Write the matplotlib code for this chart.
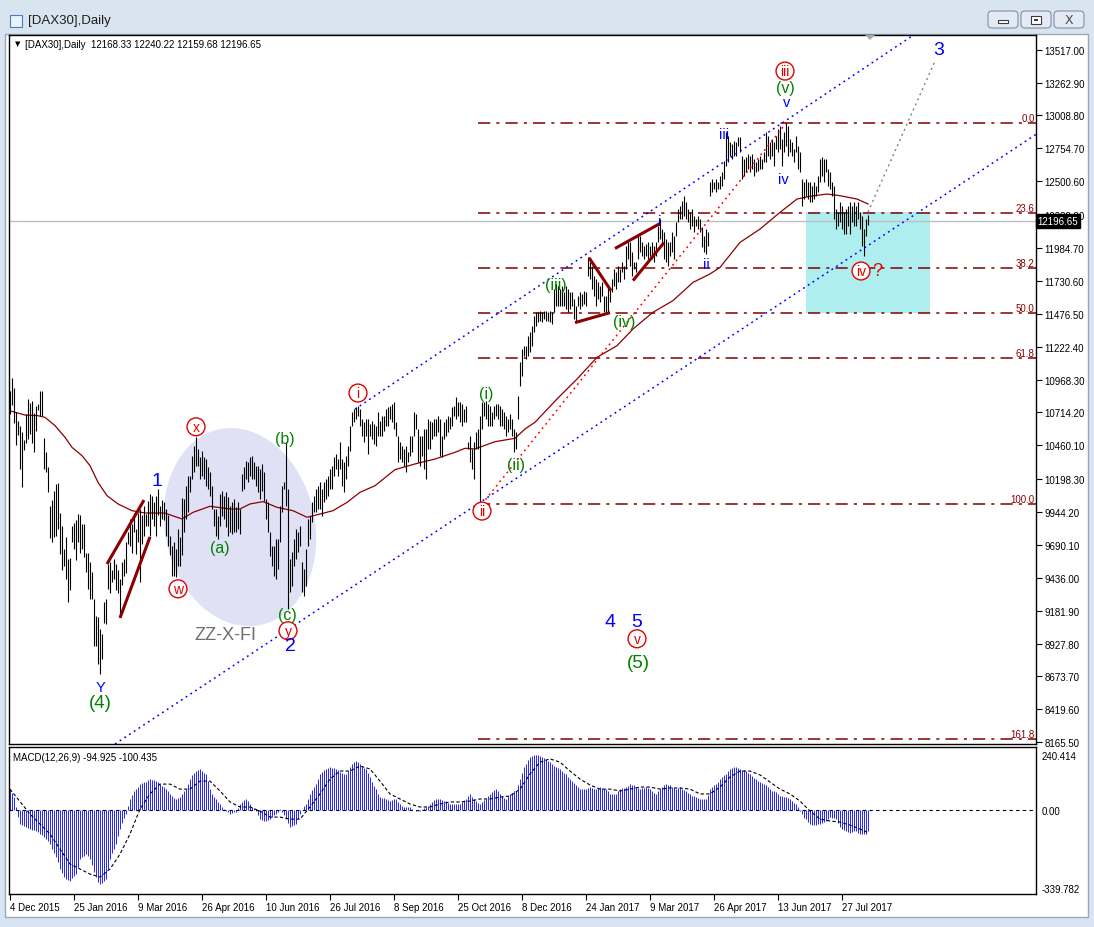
import numpy as np
import matplotlib
matplotlib.use("Agg")
from matplotlib import pyplot as plt
from matplotlib import patches, transforms

W, H = 1094, 928
plt.rcParams['font.family'] = ['Liberation Sans', 'DejaVu Sans']

# daily bars, 4 Dec 2015 .. mid Aug 2017
bar_high = [
	10880, 10980, 10900, 10720, 10650, 10610, 10560, 10500, 10700, 10820,
	10790, 10800, 10710, 10760, 10780, 10880, 10880, 10520, 10410, 10290,
	9990, 10040, 10110, 10160, 10170, 9940, 9840, 9660, 9750, 9580,
	9590, 9840, 9860, 9880, 9930, 9920, 9850, 9850, 9630, 9630,
	9560, 9480, 9270, 9140, 9130, 9040, 9000, 9250, 9270, 9540,
	9560, 9500, 9580, 9540, 9500, 9430, 9560, 9580, 9710, 9790,
	9890, 9850, 9940, 9810, 9940, 9970, 9920, 9990, 9930, 10030,
	10080, 10070, 10020, 10070, 10120, 9990, 10040, 10020, 9970, 9920,
	9760, 9680, 9710, 9660, 9810, 9750, 10050,
	10045, 10148, 10226, 10226, 10380, 10457, 10522, 10432, 10367, 10419,
	10367, 10354, 10290, 10251, 10148, 9968, 9968, 9916, 10084, 10110,
	10071, 10097, 10058, 9994, 10019, 10045, 9981, 10019, 9968, 10238,
	10290, 10341, 10329, 10367, 10380, 10329, 10303, 10303, 10277, 10316,
	10251, 10045, 10019, 9788, 9685, 9685, 9736, 9736, 9994, 10148,
	10174, 10483, 10123, 9582, 9633, 9736, 9813, 9788, 9839, 9556,
	9504, 9659, 9891, 9916, 10019, 10071, 10123, 10148, 10174, 10123,
	10174, 10200, 10226, 10277, 10303, 10367, 10393, 10354, 10483, 10354,
	10329, 10380, 10457, 10612, 10715, 10741, 10754,
	10766, 10741, 10663, 10638, 10663, 10663, 10625, 10650, 10625, 10612,
	10715, 10650, 10690, 10690, 10741, 10754, 10766, 10779, 10792, 10638,
	10535, 10483, 10457, 10432, 10457, 10406, 10535, 10535, 10715, 10702,
	10586, 10535, 10535, 10586, 10586, 10663, 10650, 10638, 10663, 10663,
	10690, 10663, 10535, 10638, 10663, 10690, 10676, 10754, 10766, 10831,
	10792, 10792, 10779, 10741, 10766, 10483, 10535, 10432, 10483, 10560,
	10586, 10690, 10792, 10792, 10805, 10779, 10766, 10715, 10766, 10779,
	10779, 10766, 10741, 10715, 10690, 10663, 10702, 10663, 10586, 10560,
	10844, 11101, 11204, 11230, 11230, 11307, 11333, 11385,
	11462, 11488, 11488, 11500, 11488, 11500, 11500, 11488, 11500, 11488,
	11668, 11707, 11694, 11668, 11694, 11642, 11694, 11668, 11642, 11642,
	11591, 11539, 11616, 11642, 11629, 11655, 11642, 11913, 11874, 11848,
	11771, 11745, 11719, 11694, 11719, 11616, 11616, 11694, 11668, 11745,
	11822, 11797, 11848, 11822, 11874, 11848, 12003, 12028, 12028, 11951,
	11874, 11874, 12080, 12080, 12028, 12003, 12016, 12028, 12003, 12028,
	12003, 12028, 12157, 12209, 12132, 12106, 12054, 12028, 12028, 12106,
	12080, 12183, 12286, 12312, 12350, 12389, 12338, 12286, 12260, 12286,
	12235, 12209, 12235, 12209, 12150, 12080, 12131, 12106, 12492, 12518,
	12492, 12518, 12492, 12544, 12569, 12659, 12878, 12853, 12801, 12788,
	12814, 12801, 12840, 12840, 12698, 12672, 12685, 12711, 12698, 12711,
	12672, 12647, 12672, 12698, 12672, 12724, 12878, 12853, 12801, 12827,
	12801, 12853, 12904, 12930, 12827, 12878, 12956, 12930, 12827, 12801,
	12750, 12853, 12775, 12724, 12518, 12492, 12518, 12492, 12492, 12466,
	12492, 12466, 12544, 12672, 12685, 12672, 12672, 12595, 12569, 12492,
	12466, 12286, 12260, 12337, 12312, 12260, 12286, 12312, 12337, 12312,
	12337, 12312, 12337, 12260, 12234, 12131, 12209, 12240,
]
bar_low = [
	10700, 10770, 10630, 10460, 10540, 10280, 10140, 10420, 10480, 10510,
	10550, 10480, 10410, 10570, 10730, 10690, 10690, 10280, 10250, 10100,
	9740, 9710, 9750, 9760, 9810, 9620, 9500, 9530, 9430, 9250,
	9340, 9710, 9660, 9570, 9710, 9630, 9660, 9600, 9480, 9350,
	9270, 9270, 8910, 8910, 8770, 8690, 8810, 9090, 9080, 9350,
	9320, 9400, 9430, 9340, 9320, 9130, 9380, 9450, 9470, 9700,
	9680, 9630, 9790, 9620, 9710, 9400, 9700, 9760, 9840, 9840,
	9760, 9890, 9840, 9760, 9920, 9840, 9890, 9880, 9760, 9680,
	9610, 9450, 9450, 9440, 9530, 9530, 9610,
	9788, 9891, 9942, 10097, 10200, 10251, 10303, 10303, 10200, 10226,
	10200, 10148, 10123, 10071, 9968, 9839, 9762, 9736, 9839, 9916,
	9891, 9826, 9762, 9788, 9775, 9788, 9788, 9813, 9775, 10110,
	10123, 10200, 10174, 10226, 10200, 10200, 10148, 10097, 10045, 10110,
	10032, 9891, 9788, 9607, 9530, 9453, 9427, 9504, 9710, 9942,
	10123, 9994, 9195, 9324, 9376, 9530, 9582, 9633, 9685, 9324,
	9298, 9376, 9685, 9736, 9865, 9942, 9942, 9968, 9968, 9916,
	10019, 10045, 10071, 10123, 10123, 10226, 10277, 10226, 10277, 10148,
	10097, 10200, 10303, 10419, 10612, 10638, 10663,
	10690, 10612, 10535, 10483, 10535, 10393, 10535, 10509, 10470, 10457,
	10535, 10535, 10535, 10573, 10612, 10612, 10663, 10638, 10586, 10535,
	10328, 10354, 10328, 10303, 10251, 10328, 10380, 10406, 10535, 10586,
	10328, 10303, 10380, 10277, 10200, 10432, 10432, 10509, 10535, 10535,
	10560, 10380, 10367, 10509, 10535, 10560, 10586, 10612, 10690, 10663,
	10690, 10638, 10612, 10638, 10638, 10432, 10328, 10277, 10200, 10432,
	10432, 10020, 10586, 10690, 10663, 10612, 10612, 10612, 10663, 10690,
	10663, 10612, 10612, 10586, 10535, 10560, 10586, 10535, 10406, 10432,
	10663, 10921, 10998, 11153, 11127, 11153, 11179, 11230,
	11333, 11385, 11410, 11423, 11410, 11436, 11423, 11423, 11410, 11397,
	11488, 11539, 11539, 11539, 11539, 11539, 11513, 11488, 11513, 11539,
	11436, 11410, 11539, 11513, 11539, 11552, 11539, 11771, 11745, 11668,
	11616, 11539, 11591, 11565, 11616, 11488, 11488, 11488, 11565, 11642,
	11694, 11668, 11719, 11719, 11797, 11745, 11822, 11900, 11848, 11771,
	11822, 11797, 11900, 11951, 11925, 11900, 11925, 11900, 11925, 11900,
	11874, 11925, 12028, 12054, 12003, 11900, 11874, 11848, 11925, 11951,
	11900, 12080, 12183, 12209, 12209, 12235, 12209, 12183, 12132, 12157,
	12106, 12157, 12132, 12106, 11990, 11951, 11938, 12003, 12389, 12415,
	12440, 12415, 12440, 12440, 12466, 12518, 12621, 12647, 12698, 12672,
	12698, 12698, 12775, 12724, 12518, 12544, 12569, 12595, 12569, 12595,
	12544, 12569, 12582, 12595, 12595, 12647, 12647, 12698, 12672, 12698,
	12621, 12750, 12724, 12750, 12621, 12724, 12775, 12698, 12724, 12698,
	12647, 12724, 12595, 12569, 12312, 12363, 12389, 12363, 12337, 12337,
	12363, 12389, 12415, 12492, 12544, 12492, 12569, 12466, 12440, 12389,
	12209, 12131, 12157, 12183, 12131, 12093, 12093, 12157, 12093, 12183,
	12157, 12157, 12209, 12131, 12003, 11925, 12080, 12160,
]

# 50-day moving average (red line), read at intervals
ma_bar = [-0.5, 7.5, 14, 17.5, 22.5, 27.5, 31, 36, 40, 44, 48.5, 54, 61, 67.5, 77.5, 81, 86,
	91.5, 100, 110, 115, 120, 126.5, 133.5, 141.5, 148.5, 155, 161.5, 168.5, 175, 182.5,
	192.5, 202.5, 212.5, 222.5, 227.5, 232.5, 242.5, 252.5, 257.5, 262.5, 273.5, 283.5,
	293.5, 303.5, 311.5, 321.5, 331.5, 341.5, 350, 355, 365, 375, 385, 393.5, 400, 408.5,
	415, 423.5, 429]
ma_val = [10728, 10694, 10689, 10676, 10612, 10522, 10444, 10380, 10303, 10174, 10071, 10007,
	9955, 9937, 9937, 9917, 9891, 9942, 9989, 9968, 9968, 10007, 10025, 9981, 9955, 9904,
	9929, 9955, 10019, 10097, 10148, 10272, 10316, 10354, 10406, 10437, 10432, 10488, 10514,
	10586, 10638, 10818, 10972, 11140, 11230, 11359, 11488, 11578, 11719, 11784, 11835,
	12028, 12131, 12260, 12363, 12384, 12402, 12389, 12363, 12325]

# MACD(12,26,9) main value per bar (blue histogram)
macd_main = [
	90, 75, 55, 10, -30, -62, -68, -72, -76, -80,
	-84, -88, -90, -93, -98, -106, -112, -120, -128, -138,
	-150, -170, -190, -207, -230, -259, -275, -292, -303, -308,
	-312, -300, -290, -281, -250, -215, -205, -200, -194, -200,
	-215, -240, -270, -294, -315, -325, -318, -310, -303, -260,
	-215, -190, -170, -150, -115, -84, -60, -35, -19, 15,
	47, 65, 80, 90, 100, 112, 116, 119, 121, 128,
	134, 130, 128, 125, 120, 112, 105, 98, 90, 80,
	69, 60, 52, 47, 50, 55, 70, 82, 90, 112,
	134, 150, 160, 169, 174, 178, 170, 162, 156, 125,
	90, 70, 55, 47, 35, 25, 12, 2, -6, -12,
	-19, -15, -12, -10, 8, 25, 35, 42, 47, 36,
	25, 12, 2, -6, -24, -41, -45, -47, -49, -45,
	-41, -32, -25, -19, -8, 3, -10, -25, -41, -60,
	-76, -70, -66, -62, -40, -19, 0, 15, 25, 45,
	69, 85, 100, 112, 135, 156, 165, 172, 178, 183,
	187, 184, 181, 178, 172, 165, 160, 158, 156, 170,
	187, 200, 208, 213, 208, 200, 190, 182, 178, 160,
	143, 120, 105, 90, 70, 55, 52, 50, 47, 42,
	38, 42, 45, 47, 35, 25, 18, 14, 12, 12,
	12, 5, 0, -6, -6, -6, 2, 8, 12, 18,
	25, 35, 42, 47, 47, 47, 42, 40, 38, 30,
	25, 25, 25, 25, 25, 25, 35, 42, 47, 58,
	69, 55, 45, 38, 30, 25, 35, 42, 47, 58,
	69, 78, 85, 90, 80, 69, 60, 52, 47, 58,
	69, 75, 80, 82, 110, 134, 160, 185, 200, 218,
	230, 234, 237, 239, 237, 235, 230, 226, 222, 215,
	208, 200, 192, 187, 182, 178, 170, 162, 156, 145,
	134, 125, 115, 108, 100, 90, 90, 90, 90, 94,
	99, 95, 92, 90, 94, 99, 95, 92, 90, 80,
	69, 69, 69, 69, 80, 90, 94, 97, 99, 105,
	112, 110, 108, 100, 95, 90, 94, 97, 99, 95,
	90, 80, 75, 69, 80, 90, 100, 108, 112, 110,
	108, 100, 95, 90, 94, 99, 92, 85, 82, 75,
	69, 62, 58, 55, 50, 47, 47, 47, 47, 65,
	90, 100, 108, 112, 122, 134, 142, 150, 156, 168,
	178, 182, 185, 187, 183, 178, 175, 172, 169, 162,
	156, 148, 140, 134, 127, 121, 116, 112, 108, 99,
	90, 84, 80, 77, 68, 60, 58, 56, 55, 50,
	47, 38, 30, 25, 10, -6, -20, -34, -41, -52,
	-62, -65, -67, -67, -64, -62, -56, -52, -49, -40,
	-32, -35, -38, -41, -60, -76, -85, -90, -93, -98,
	-102, -98, -95, -93, -100, -106, -106, -106, -106, -95,
]
# signal line (dashed), read at intervals
signal_bar = [0, 10, 20, 30, 40, 45, 50, 55, 60, 65, 70, 75, 80, 85, 90, 95, 100, 105, 110, 115,
	120, 125, 130, 135, 140, 145, 150, 155, 160, 165, 170, 175, 180, 185, 190, 195, 200, 205,
	210, 215, 220, 225, 230, 235, 240, 245, 250, 255, 260, 265, 270, 275, 280, 285, 290, 295,
	300, 305, 310, 315, 320, 325, 330, 335, 340, 345, 350, 355, 360, 365, 370, 375, 380, 385,
	390, 395, 400, 405, 410, 415, 420, 425, 429]
signal_val = [90, -19, -106, -237, -281, -294, -259, -194, -106, 3, 69, 112, 112, 90, 90, 125,
	125, 82, 34, 12, 12, -6, -32, -32, -41, -41, 12, 69, 134, 169, 169, 191, 178, 125, 69, 47,
	25, 12, 12, 25, 34, 34, 38, 47, 47, 55, 60, 90, 156, 208, 222, 208, 169, 134, 108, 90, 90,
	82, 90, 99, 99, 90, 95, 95, 90, 69, 69, 99, 143, 169, 169, 152, 121, 90, 69, 38, -6, -41,
	-49, -54, -67, -84, -100]

price_ticks = [13517.00, 13262.90, 13008.80, 12754.70, 12500.60, 12238.80, 11984.70, 11730.60,
	11476.50, 11222.40, 10968.30, 10714.20, 10460.10, 10198.30, 9944.20, 9690.10, 9436.00,
	9181.90, 8927.80, 8673.70, 8419.60, 8165.50]
date_labels = ['4 Dec 2015', '25 Jan 2016', '9 Mar 2016', '26 Apr 2016', '10 Jun 2016',
	'26 Jul 2016', '8 Sep 2016', '25 Oct 2016', '8 Dec 2016', '24 Jan 2017', '9 Mar 2017',
	'26 Apr 2017', '13 Jun 2017', '27 Jul 2017']
date_bars = [0, 32, 64, 96, 128, 160, 192, 224, 256, 288, 320, 352, 384, 416]

fib_levels = [0.0, 23.6, 38.2, 50.0, 61.8, 100.0, 161.8]
fib_top, fib_bottom = 12951.5, 10007.0
last_ohlc = (12168.33, 12240.22, 12159.68, 12196.65)
macd_last = (-94.925, -100.435)

# wave count labels: text, bar, price, style
waves = [
	('Y', 45, 8592, 'blue'), ('(4)', 45, 8476, 'green_big'),
	('1', 73.5, 10185, 'blue_big'), ('w', 84, 9351, 'circle'), ('x', 93, 10603, 'circle'),
	('(a)', 105, 9668, 'green'), ('(b)', 137.5, 10510, 'green'), ('(c)', 138.5, 9150, 'green'),
	('y', 139, 9027, 'circle'), ('2', 140, 8911, 'blue_big'),
	('i', 174, 10864, 'circle'), ('(i)', 238, 10864, 'green'), ('(ii)', 253, 10308, 'green'),
	('ii', 236, 9952, 'circle'), ('(iii)', 273, 11705, 'green'), ('(iv)', 307, 11419, 'green'),
	('i', 325, 12192, 'blue'), ('ii', 348, 11860, 'blue'), ('iii', 357, 12864, 'blue'),
	('iv', 386.5, 12516, 'blue'), ('v', 388.5, 13112, 'blue'), ('(v)', 387.5, 13228, 'green'),
	('iii', 387.5, 13352, 'circle'), ('iv', 425.5, 11807, 'circle'), ('?', 433.5, 11807, 'red'),
	('3', 464.5, 13522, 'blue_big'), ('4', 300, 9096, 'blue_big'), ('5', 313.5, 9096, 'blue_big'),
	('v', 313.5, 8965, 'circle'), ('(5)', 314, 8780, 'green_big'),
]

# hand-drawn wedge lines (bar, price) pairs
wedges = [
	((48.5, 9543), (67, 10037)), ((55, 9126), (70, 9752)),
	((289.5, 11910), (300.5, 11655)), ((282.5, 11408), (300, 11485)),
	((302.5, 11981), (325, 12174)), ((311.5, 11733), (327, 12026)),
]


def box(x0, y0, x1, y1):
	return [x0 / W, 1 - y1 / H, (x1 - x0) / W, (y1 - y0) / H]


def fpt(x, y):
	return (x / W, 1 - y / H)


fig = plt.figure(figsize=(W / 100, H / 100), dpi=100)
fig.patch.set_facecolor('#D8E4F2')

# window chrome
fig.patches.append(patches.Rectangle(fpt(0, 36), 1, 36 / H, transform=fig.transFigure,
	fc='#D9E4F1', ec='none', zorder=-3))
fig.patches.append(patches.Rectangle(fpt(5, 918), 1083 / W, 883 / H, transform=fig.transFigure,
	fc='white', ec='#9AA8B8', lw=1, zorder=-3))
for xa, xb, glyph in [(988, 1018, 'min'), (1021, 1051, 'max'), (1054, 1084, 'close')]:
	fig.patches.append(patches.FancyBboxPatch(fpt(xa, 29), (xb - xa) / W, 17 / H,
		boxstyle='round,pad=0,rounding_size=0.004', transform=fig.transFigure,
		fc='#E3EAF3', ec='#7F8EA3', lw=0.8, zorder=-2))
	cx = (xa + xb) / 2
	if glyph == 'min':
		fig.patches.append(patches.Rectangle(fpt(cx - 5, 24), 10 / W, 3 / H,
			transform=fig.transFigure, fc='white', ec='#3C3C3C', lw=0.8, zorder=-1))
	elif glyph == 'max':
		fig.patches.append(patches.Rectangle(fpt(cx - 5, 25), 10 / W, 8 / H,
			transform=fig.transFigure, fc='white', ec='#3C3C3C', lw=0.8, zorder=-1))
		fig.patches.append(patches.Rectangle(fpt(cx - 2, 22), 4 / W, 2 / H,
			transform=fig.transFigure, fc='#3C3C3C', ec='none', zorder=-1))
	else:
		fig.text(cx / W, 1 - 21 / H, 'X', ha='center', va='center', fontsize=9,
			color='#4A4A4A', family='DejaVu Sans')
fig.patches.append(patches.Rectangle(fpt(10, 28), 12 / W, 12 / H, transform=fig.transFigure,
	fc='#EAF2FB', ec='#4A7EBB', lw=0.8, zorder=-1))
fig.text(28 / W, 1 - 21 / H, '[DAX30],Daily', ha='left', va='center', fontsize=9.5,
	color='#1E1E1E')

# price panel
ax = fig.add_axes(box(9, 36, 1036, 745))
ax.set_xlim(-0.5, 513)
ax.set_ylim(8152, 13630.6)
ax.set_facecolor('white')
for s in ax.spines.values():
	s.set_color('black')
	s.set_linewidth(1)
ax.set_xticks([])
ax.yaxis.tick_right()
ax.set_yticks(price_ticks)
ax.set_yticklabels(['%.2f' % v for v in price_ticks])
ax.tick_params(axis='y', length=4, width=0.8, labelsize=7, pad=2, colors='black')

xs = np.arange(len(bar_high))

ax.add_patch(patches.Rectangle((398, 11481), 62, 12262 - 11481, fc='#AFEEEE', ec='none', zorder=1))
ell = patches.Ellipse((0, 0), 200, 150, angle=-78, fc='#E1E1F6', ec='none', zorder=1,
	transform=transforms.ScaledTranslation(115, 9828, ax.transData))
ax.add_patch(ell)

fib_range = fib_top - fib_bottom
for lvl in fib_levels:
	yv = fib_top - lvl / 100.0 * fib_range
	ax.plot([234, 513], [yv, yv], color='#800000', lw=1.1, ls=(0, (8, 4, 2, 4)), zorder=2)
	ax.text(512.3, yv, '%.1f' % lvl, ha='right', va='bottom', fontsize=7, color='#8B0000',
		zorder=6)

ax.axhline(last_ohlc[3], color='#C0C0C0', lw=1, zorder=2)
ax.plot(ma_bar, ma_val, color='#8B0000', lw=0.9, zorder=3)
ax.vlines(xs, bar_low, bar_high, color='black', lw=0.8, zorder=4)

ax.plot([52.5, 513], [8152, 8152 + 460.5 * 10.23], color='blue', ls=(0, (1.2, 2.5)), lw=1.1, zorder=5)
ax.plot([172.5, 460], [10740, 10740 + 287.5 * 10.35], color='blue', ls=(0, (1.2, 2.5)), lw=1.1, zorder=5)
ax.plot([236, 388.5], [10006, 12958], color='red', ls=(0, (1.2, 2.5)), lw=1.1, zorder=5)
ax.plot([429, 462.5], [12263, 13430], color='#808080', ls=(0, (1.5, 2.5)), lw=1.0, zorder=5)
for (a, b) in wedges:
	ax.plot([a[0], b[0]], [a[1], b[1]], color='#8B0000', lw=2.2, solid_capstyle='butt', zorder=5)

ax.text(107.5, 8996, 'ZZ-X-FI', ha='center', va='center', fontsize=13, color='#6E6E6E', zorder=6)
for t, b, p, kind in waves:
	if kind == 'circle':
		ax.text(b, p, t, ha='center', va='center', fontsize=10, color='#E00000', zorder=7,
			bbox=dict(boxstyle='circle,pad=0.14', fc='white', ec='#E00000', lw=1))
	elif kind == 'blue':
		ax.text(b, p, t, ha='center', va='center', fontsize=10.5, color='blue', zorder=7)
	elif kind == 'blue_big':
		ax.text(b, p, t, ha='center', va='center', fontsize=14, color='blue', zorder=7)
	elif kind == 'green':
		ax.text(b, p, t, ha='center', va='center', fontsize=11.5, color='#008000', zorder=7)
	elif kind == 'green_big':
		ax.text(b, p, t, ha='center', va='center', fontsize=13.5, color='#008000', zorder=7)
	else:
		ax.text(b, p, t, ha='center', va='center', fontsize=13, color='#E00000', zorder=7)

blend = transforms.blended_transform_factory(ax.transAxes, ax.transData)
ax.text(1.0015, last_ohlc[3], '%.2f' % last_ohlc[3], transform=blend, ha='left', va='center',
	fontsize=7, color='white', zorder=10, clip_on=False,
	bbox=dict(boxstyle='square,pad=0.2', fc='black', ec='black'))
ax.text(0.0055, 0.988, '\u25bc', transform=ax.transAxes, ha='left', va='center', fontsize=5,
	color='black', family='DejaVu Sans')
ax.text(0.016, 0.988, '[DAX30],Daily  %.2f %.2f %.2f %.2f' % last_ohlc, transform=ax.transAxes,
	ha='left', va='center', fontsize=7, color='black')
fig.patches.append(patches.Polygon([fpt(865, 36), fpt(875, 36), fpt(870, 41)], closed=True,
	transform=fig.transFigure, fc='#A8A8A8', ec='none', zorder=20))

# MACD panel
ax2 = fig.add_axes(box(9, 748, 1036, 895))
ax2.set_xlim(-0.5, 513)
ax2.set_ylim(-368, 274)
for s in ax2.spines.values():
	s.set_color('black')
	s.set_linewidth(1)
ax2.yaxis.tick_right()
ax2.set_yticks([240.414, 0.0, -339.782])
ax2.set_yticklabels(['240.414', '0.00', '-339.782'])
ax2.tick_params(axis='y', length=0, labelsize=7, pad=4)
ax2.set_xticks(date_bars)
ax2.set_xticklabels(date_labels, ha='left')
ax2.tick_params(axis='x', length=4, width=0.8, labelsize=7, pad=2)
ax2.axhline(0, color='black', lw=0.8, ls=(0, (3, 3)), zorder=1)
mx = np.arange(len(macd_main))
ax2.vlines(mx, 0, macd_main, color='blue', lw=0.6, zorder=2)
ax2.plot(signal_bar, signal_val, color='black', lw=0.8, ls=(0, (3, 2)), zorder=3)
ax2.text(0.004, 0.93, 'MACD(12,26,9) %.3f %.3f' % macd_last, transform=ax2.transAxes,
	ha='left', va='center', fontsize=7, color='black')

fig.savefig('out.png', dpi=100, facecolor=fig.get_facecolor())
